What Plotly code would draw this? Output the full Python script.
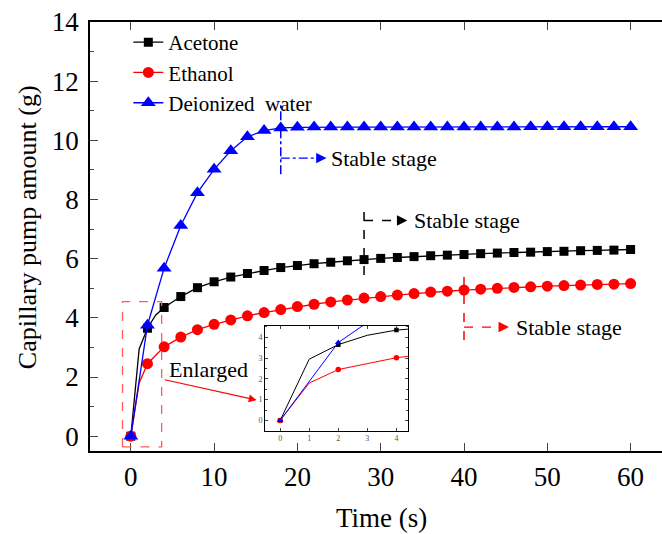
import plotly.graph_objects as go

# ---------------- data ----------------
t_acetone = [0, 1, 2, 3, 4, 6, 8, 10, 12, 14, 16, 18, 20, 22, 24, 26, 28, 30, 32, 34,
             36, 38, 40, 42, 44, 46, 48, 50, 52, 54, 56, 58, 60]
acetone = [0, 2.95, 3.65, 4.10, 4.35, 4.72, 5.02, 5.22, 5.38, 5.50, 5.60, 5.70, 5.77,
           5.83, 5.88, 5.93, 5.97, 6.01, 6.04, 6.07, 6.10, 6.12, 6.14, 6.17, 6.19, 6.21,
           6.22, 6.24, 6.25, 6.27, 6.28, 6.29, 6.31]

t_ethanol = [0, 1, 2, 3, 4, 6, 8, 10, 12, 14, 16, 18, 20, 22, 24, 26, 28, 30, 32, 34,
             36, 38, 40, 42, 44, 46, 48, 50, 52, 54, 56, 58, 60]
ethanol = [0, 1.80, 2.45, 2.75, 3.02, 3.35, 3.60, 3.78, 3.93, 4.07, 4.18, 4.28, 4.38,
           4.46, 4.54, 4.60, 4.67, 4.72, 4.77, 4.82, 4.87, 4.90, 4.94, 4.97, 5.00, 5.03,
           5.05, 5.07, 5.09, 5.11, 5.13, 5.14, 5.16]

t_water = [0, 2, 4, 6, 8, 10, 12, 14, 16, 18, 20, 22, 24, 26, 28, 30, 32, 34, 36, 38,
           40, 42, 44, 46, 48, 50, 52, 54, 56, 58, 60]
water = [0, 3.75, 5.68, 7.12, 8.23, 9.02, 9.65, 10.12, 10.33, 10.42, 10.44, 10.45, 10.45,
         10.45, 10.45, 10.45, 10.45, 10.45, 10.45, 10.45, 10.45, 10.45, 10.45, 10.45,
         10.46, 10.46, 10.46, 10.46, 10.46, 10.46, 10.46]

x_ticks = [0, 10, 20, 30, 40, 50, 60]
y_ticks = [0, 2, 4, 6, 8, 10, 12, 14]
inset_ticks = [0, 1, 2, 3, 4]

stable_t = {"water": 18, "acetone": 28, "ethanol": 40}

FONT = "Liberation Serif"
BLACK, RED, BLUE = "#000000", "#ff0000", "#0000ff"

series = [
    ("Acetone", t_acetone, acetone, BLACK, "square", 9, 4.5),
    ("Ethanol", t_ethanol, ethanol, RED, "circle", 11, 5.5),
    ("Deionized\u00a0 water", t_water, water, BLUE, "triangle-up", 13, 6),
]

fig = go.Figure()

for name, t, v, col, sym, ms, ims in series:
    mt = [ti for ti in t if ti % 2 == 0]
    mv = [vi for ti, vi in zip(t, v) if ti % 2 == 0]
    fig.add_trace(go.Scatter(x=t, y=v, mode="lines", line=dict(color=col, width=1.3),
                             showlegend=False, hoverinfo="skip"))
    fig.add_trace(go.Scatter(x=mt, y=mv, mode="markers",
                             marker=dict(color=col, symbol=sym, size=ms, line=dict(width=0)),
                             showlegend=False))
    fig.add_trace(go.Scatter(x=[None], y=[None], mode="lines+markers", name=name,
                             line=dict(color=col, width=1.3),
                             marker=dict(color=col, symbol=sym, size=ms, line=dict(width=0))))
    fig.add_trace(go.Scatter(x=t, y=v, mode="lines", line=dict(color=col, width=1),
                             xaxis="x2", yaxis="y2", showlegend=False, hoverinfo="skip"))
    fig.add_trace(go.Scatter(x=mt, y=mv, mode="markers", xaxis="x2", yaxis="y2",
                             marker=dict(color=col, symbol=sym, size=ims, line=dict(width=0)),
                             showlegend=False))

shapes = []
annotations = []

def stable(tv, y_lo, y_hi, y_arrow, head_t, text_t, col, dash):
    shapes.append(dict(type="line", xref="x", yref="y", x0=tv, x1=tv, y0=y_lo, y1=y_hi,
                       line=dict(color=col, width=1.5, dash=dash)))
    shapes.append(dict(type="line", xref="x", yref="y", x0=tv, x1=head_t - 0.8,
                       y0=y_arrow, y1=y_arrow, line=dict(color=col, width=1.3, dash=dash)))
    annotations.append(dict(x=head_t, y=y_arrow, ax=head_t - 1.4, ay=y_arrow, xref="x", yref="y",
                            axref="x", ayref="y", text="", showarrow=True, arrowhead=2,
                            arrowsize=1.6, arrowwidth=1.3, arrowcolor=col))
    annotations.append(dict(x=text_t, y=y_arrow, xref="x", yref="y", text="Stable stage",
                            showarrow=False, xanchor="left", yanchor="middle",
                            font=dict(family=FONT, size=22, color="black")))

stable(stable_t["water"], 8.85, 11.2, 9.4, 23.5, 23.8, BLUE, "dashdot")
stable(stable_t["acetone"], 5.45, 7.75, 7.29, 33.2, 33.8, BLACK, "dash")
stable(stable_t["ethanol"], 3.25, 5.5, 3.69, 45.4, 46.0, RED, "dash")

# enlarged region
shapes.append(dict(type="rect", xref="x", yref="y", x0=-1.0, x1=3.7, y0=-0.36, y1=4.55,
                   line=dict(color="#ff5c5c", width=1.3, dash="dash")))
annotations.append(dict(x=15.1, y=1.22, ax=3.9, ay=1.92, xref="x", yref="y", axref="x",
                        ayref="y", text="", showarrow=True, arrowhead=2, arrowsize=1.3,
                        arrowwidth=1.2, arrowcolor=RED))
annotations.append(dict(x=9.35, y=2.24, xref="x", yref="y", text="Enlarged", showarrow=False,
                        font=dict(family=FONT, size=22, color="black")))

# axis titles
annotations.append(dict(x=-0.110, y=0.522, xref="paper", yref="paper", textangle=-90,
                        text="Capillary pump amount (g)", showarrow=False,
                        xanchor="center", yanchor="middle",
                        font=dict(family=FONT, size=26, color="black")))
annotations.append(dict(x=0.510, y=-0.157, xref="paper", yref="paper", text="Time (s)",
                        showarrow=False, xanchor="center", yanchor="middle",
                        font=dict(family=FONT, size=27, color="black")))

fig.update_layout(
    width=662, height=534,
    margin=dict(l=90, r=0, t=22, b=83),
    paper_bgcolor="white", plot_bgcolor="white",
    font=dict(family=FONT, color="black"),
    showlegend=True,
    legend=dict(x=0.067, y=1.0, xanchor="left", yanchor="top", bgcolor="rgba(0,0,0,0)",
                font=dict(family=FONT, size=21), tracegroupgap=0),
    xaxis=dict(range=[-4.9, 63.77], domain=[0, 1], tickvals=x_ticks, ticks="inside",
               ticklen=8, tickwidth=1.3, showline=True, linewidth=1.5, linecolor="black",
               mirror="ticks", showgrid=False, zeroline=False,
               tickfont=dict(family=FONT, size=27), ticklabelstandoff=1),
    yaxis=dict(range=[-0.5, 14], domain=[0, 1], tickvals=y_ticks, ticks="inside",
               ticklen=8, tickwidth=1.3, showline=True, linewidth=1.5, linecolor="black",
               showgrid=False, zeroline=False,
               minor=dict(dtick=1, ticks="inside", ticklen=4, tickwidth=1.2, showgrid=False),
               tickfont=dict(family=FONT, size=27), ticklabelstandoff=4),
    xaxis2=dict(domain=[0.306, 0.556], anchor="y2", range=[-0.52, 4.4], tickvals=inset_ticks,
                ticks="inside", ticklen=3, tickwidth=1, showline=True, linewidth=1,
                linecolor="black", mirror="ticks", showgrid=False, zeroline=False,
                tickfont=dict(family=FONT, size=8, color="#555555")),
    yaxis2=dict(domain=[0.047, 0.292], anchor="x2", range=[-0.5, 4.56], tickvals=inset_ticks,
                ticks="inside", ticklen=3, tickwidth=1, showline=True, linewidth=1,
                linecolor="black", mirror="ticks", showgrid=False, zeroline=False,
                minor=dict(dtick=0.5, ticks="inside", ticklen=2, tickwidth=0.8),
                tickfont=dict(family=FONT, size=8, color="#555555")),
    shapes=shapes,
    annotations=annotations,
)

fig.write_html("out.html")
